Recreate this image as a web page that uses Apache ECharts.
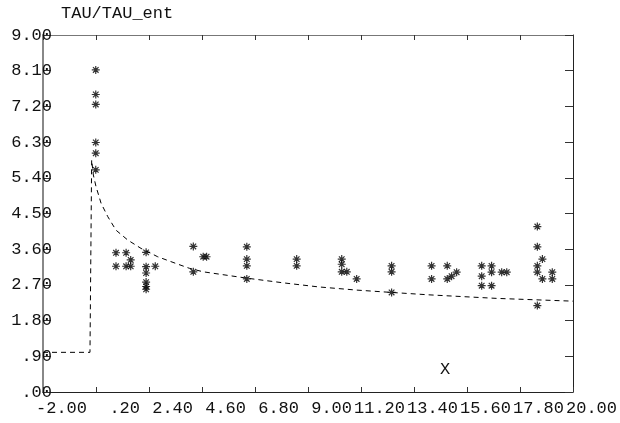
<!DOCTYPE html>
<html>
<head>
<meta charset="utf-8">
<script src="https://cdn.jsdelivr.net/npm/echarts@6/dist/echarts.min.js"></script>
<style>
  html, body { margin: 0; padding: 0; background: #fff; }
  #chart { width: 620px; height: 423px; }
</style>
</head>
<body>
<div id="chart"></div>
<script>
// measured points (asterisks)
var pointX = [
  0.19, 0.19, 0.19, 0.19, 0.19, 0.19,
  1.03, 1.03, 1.45, 1.45, 1.64, 1.64,
  2.28, 2.28, 2.28, 2.28, 2.28, 2.28, 2.66,
  4.24, 4.24, 4.65, 4.79,
  6.46, 6.46, 6.46, 6.46,
  8.53, 8.53,
  10.40, 10.40, 10.40, 10.61, 11.02,
  12.47, 12.47, 12.47,
  14.13, 14.13, 14.78, 14.78, 14.96, 15.17,
  16.21, 16.21, 16.21, 16.62, 16.62, 16.62, 17.04, 17.25,
  18.52, 18.52, 18.52, 18.52, 18.52, 18.73, 18.73, 19.14, 19.14
];
var pointY = [
  8.12, 7.50, 7.25, 6.29, 6.02, 5.60,
  3.51, 3.17, 3.51, 3.17, 3.33, 3.17,
  3.52, 3.16, 3.00, 2.77, 2.66, 2.59, 3.17,
  3.67, 3.03, 3.41, 3.41,
  3.66, 3.35, 3.18, 2.85,
  3.35, 3.18,
  3.35, 3.22, 3.03, 3.03, 2.85,
  3.18, 3.03, 2.51,
  3.18, 2.85, 3.18, 2.85, 2.92, 3.02,
  3.18, 2.92, 2.68, 3.18, 3.02, 2.68, 3.02, 3.02,
  4.17, 3.66, 3.18, 3.02, 2.18, 3.35, 2.85, 3.02, 2.85
];

// dashed reference curve
var curveX = [-2.00, -0.05, 0.00, 0.02, 0.09, 0.20, 0.41, 0.69, 1.03, 1.52, 2.07, 2.76, 3.52, 4.07, 4.65, 6.46, 8.00, 9.43, 11.00, 12.47, 14.00, 16.83, 20.00];
var curveY = [1.00, 1.00, 1.00, 5.85, 5.47, 5.18, 4.76, 4.42, 4.08, 3.83, 3.62, 3.41, 3.24, 3.12, 3.03, 2.87, 2.75, 2.65, 2.57, 2.51, 2.45, 2.36, 2.29];

// axes
var xMin = -2, xMax = 20, xStep = 2.2;
var yMin = 0, yMax = 9, yStep = 0.9;
var yTitle = 'TAU/TAU_ent';
var xTitle = 'X';

var font = 'Liberation Mono';
var ink = '#111';

// 去掉前导0: 0.20 -> .20
function fmt(v) {
  var s = (Math.abs(v) < 1e-9 ? 0 : v).toFixed(2);
  return s.replace(/^0\./, '.').replace(/^-0\./, '-.');
}

var chart = echarts.init(document.getElementById('chart'));

var star = 'path://M0,5L10,5M5,0L5,10M1.5,1.5L8.5,8.5M8.5,1.5L1.5,8.5';

var grid = { left: 43, right: 47, top: 35, bottom: 31 };

function xAxis(pos, show) {
  return {
    type: 'value', position: pos, min: xMin, max: xMax, interval: xStep,
    axisLine: { show: true, onZero: false, lineStyle: { color: pos === 'bottom' ? '#222' : '#777', width: 1 } },
    axisTick: { show: true, inside: true, length: 5, lineStyle: { color: '#333' } },
    splitLine: { show: false },
    axisLabel: {
      show: show, margin: 8, formatter: function (v) { return '{a|' + fmt(v) + '}'; },
      rich: { a: { width: 88, align: 'right', fontFamily: font, fontSize: 17, color: ink } }
    }
  };
}

function yAxis(pos, show) {
  return {
    type: 'value', position: pos, min: yMin, max: yMax, interval: yStep,
    axisLine: { show: true, onZero: false, lineStyle: { color: pos === 'left' ? '#888' : '#222', width: pos === 'left' ? 2 : 1 } },
    axisTick: { show: true, inside: true, length: 8, lineStyle: { color: '#333' } },
    splitLine: { show: false },
    axisLabel: { show: show, margin: -9, formatter: fmt, fontFamily: font, fontSize: 17, color: ink }
  };
}

var option = {
  animation: false,
  backgroundColor: '#fff',
  title: [
    { text: yTitle, left: 61, top: 5, padding: 0, textStyle: { fontFamily: font, fontSize: 17, fontWeight: 'normal', color: ink } },
    { text: xTitle, left: 440, top: 361, padding: 0, textStyle: { fontFamily: font, fontSize: 17, fontWeight: 'normal', color: ink } }
  ],
  grid: grid,
  xAxis: [xAxis('bottom', true), xAxis('top', false)],
  yAxis: [yAxis('left', true), yAxis('right', false)],
  series: [
    {
      type: 'line',
      data: curveX.map(function (x, i) { return [x, curveY[i]]; }),
      showSymbol: false,
      symbol: 'none',
      lineStyle: { color: '#000', width: 1, type: [5, 4] },
      z: 2
    },
    {
      type: 'scatter',
      data: pointX.map(function (x, i) { return [x, pointY[i]]; }),
      symbol: star,
      symbolSize: 8,
      itemStyle: { color: 'transparent', borderColor: '#000', borderWidth: 1.2 },
      z: 3
    }
  ]
};

chart.setOption(option);
</script>
</body>
</html>
